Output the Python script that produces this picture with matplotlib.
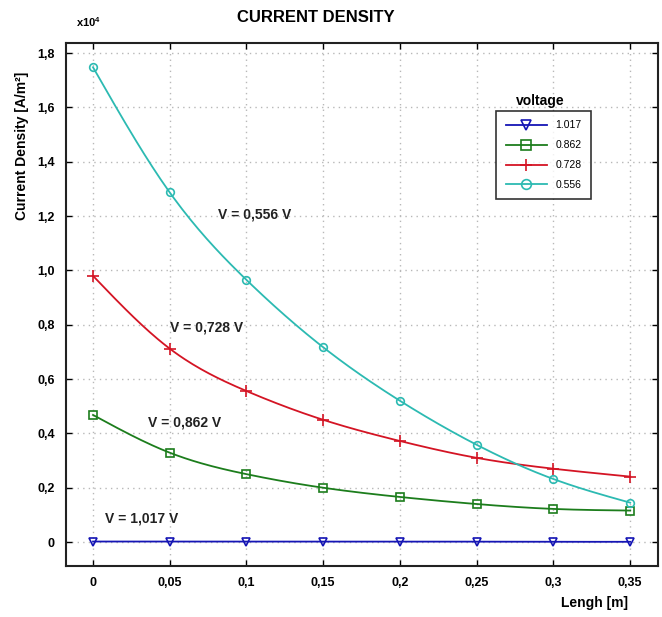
#==========================================================================
# Densidade de corrente ao longo do comprimento para varias tensoes
#--------------------------------------------------------------------------
import numpy as np
import matplotlib
matplotlib.use('Agg')
import matplotlib.pyplot as plt
from matplotlib.ticker import FuncFormatter

# Dados (densidade em A/m^2)
comprimento = [0.0, 0.05, 0.10, 0.15, 0.20, 0.25, 0.30, 0.35]
tensoes = ['1.017', '0.862', '0.728', '0.556']
j_1017 = [20, 20, 20, 20, 20, 15, 10, 10]
j_0862 = [4680, 3290, 2500, 2000, 1660, 1400, 1220, 1160]
j_0728 = [9800, 7120, 5560, 4500, 3720, 3100, 2700, 2410]
j_0556 = [17480, 12870, 9650, 7170, 5200, 3580, 2320, 1450]
rotulos = ['V = 1,017 V', 'V = 0,862 V', 'V = 0,728 V', 'V = 0,556 V']

plt.rcParams['font.family'] = ['Liberation Sans', 'DejaVu Sans']
plt.rcParams['mathtext.fontset'] = 'custom'
plt.rcParams['mathtext.rm'] = 'Liberation Sans'
plt.rcParams['mathtext.bf'] = 'Liberation Sans:bold'


def spline_natural(x, y, n=200):
    # spline cubica natural so para desenhar a linha suave entre os pontos
    x = np.asarray(x, float)
    y = np.asarray(y, float)
    h = np.diff(x)
    m = len(x)
    A = np.zeros((m, m))
    b = np.zeros(m)
    A[0, 0] = A[-1, -1] = 1
    for i in range(1, m - 1):
        A[i, i - 1] = h[i - 1]
        A[i, i] = 2 * (h[i - 1] + h[i])
        A[i, i + 1] = h[i]
        b[i] = 6 * ((y[i + 1] - y[i]) / h[i] - (y[i] - y[i - 1]) / h[i - 1])
    M = np.linalg.solve(A, b)
    xs = np.linspace(x[0], x[-1], n)
    k = np.clip(np.searchsorted(x, xs) - 1, 0, m - 2)
    t0 = x[k + 1] - xs
    t1 = xs - x[k]
    ys = (M[k] * t0**3 + M[k + 1] * t1**3) / (6 * h[k]) \
        + (y[k] / h[k] - M[k] * h[k] / 6) * t0 \
        + (y[k + 1] / h[k] - M[k + 1] * h[k] / 6) * t1
    return xs, ys


fig = plt.figure(figsize=(6.62, 6.17), dpi=100)
ax = fig.add_axes([0.0997, 0.0827, 0.894, 0.8475])

cores = ['#1515b5', '#1c7d1c', '#d41424', '#2cbab2']
marcadores = ['v', 's', '+', 'o']
series = [j_1017, j_0862, j_0728, j_0556]

for serie, cor, mk, nome in zip(series, cores, marcadores, tensoes):
    xs, ys = spline_natural(comprimento, serie)
    ax.plot(xs, ys, color=cor, lw=1.3)
    ax.plot(comprimento, serie, linestyle='none', marker=mk, color=cor,
            mfc='none', mec=cor, ms=5.5 if mk != '+' else 8, mew=1.2)
    ax.plot([], [], color=cor, lw=1.3, marker=mk, mfc='none', mec=cor,
            ms=7 if mk != '+' else 9, mew=1.2, label=nome)

# Rotulos das curvas
pos_rotulos = [(0.0078, 880), (0.0355, 4420), (0.0500, 7900), (0.0815, 12050)]
for (x, y), txt in zip(pos_rotulos, rotulos):
    ax.text(x, y, txt, fontsize=10, va='center', ha='left',
            fontweight='bold', color='#222222')

# Eixos
ax.set_xlim(-0.0176, 0.368)
ax.set_ylim(-880, 18370)
ax.set_xticks(comprimento)
ax.set_yticks(np.arange(0, 18001, 2000))


def fmt_x(v, pos):
    if abs(v) < 1e-9:
        return '0'
    return ('%g' % round(v, 2)).replace('.', ',')


def fmt_y(v, pos):
    if abs(v) < 1e-9:
        return '0'
    return ('%.1f' % (v / 1e4)).replace('.', ',')


ax.xaxis.set_major_formatter(FuncFormatter(fmt_x))
ax.yaxis.set_major_formatter(FuncFormatter(fmt_y))
ax.tick_params(direction='in', top=True, right=True, length=4, width=1,
               labelsize=9, pad=8)
for lab in ax.get_xticklabels() + ax.get_yticklabels():
    lab.set_fontweight('bold')
ax.grid(True, linestyle=(0, (1, 3)), color='#b8b8b8', lw=1)
for sp in ax.spines.values():
    sp.set_linewidth(1.5)
    sp.set_color('#222222')

# Legenda
leg = ax.legend(loc='upper left', bbox_to_anchor=(0.718, 0.88),
                fontsize=7.5, frameon=True, fancybox=False, edgecolor='black',
                handlelength=4.0, borderpad=0.9, labelspacing=0.95)
leg.get_frame().set_linewidth(1.2)
fig.text(540 / 662, 1 - 101 / 617, 'voltage', fontsize=10, fontweight='bold',
         ha='center', va='center')

# Textos
fig.text(316 / 662, 1 - 18 / 617, 'CURRENT DENSITY', fontsize=12,
         fontweight='bold', ha='center', va='center')
fig.text(76 / 662, 1 - 22 / 617, r'$\mathbf{x10^{4}}$', fontsize=8,
         ha='left', va='center')
fig.text(22 / 662, 1 - 146 / 617, 'Current Density [A/m\u00b2]', fontsize=10,
         fontweight='bold', rotation=90, ha='center', va='center')
fig.text(628 / 662, 1 - 603 / 617, 'Lengh [m]', fontsize=10,
         fontweight='bold', ha='right', va='center')

plt.savefig('out.png', dpi=100)
plt.close('all')
